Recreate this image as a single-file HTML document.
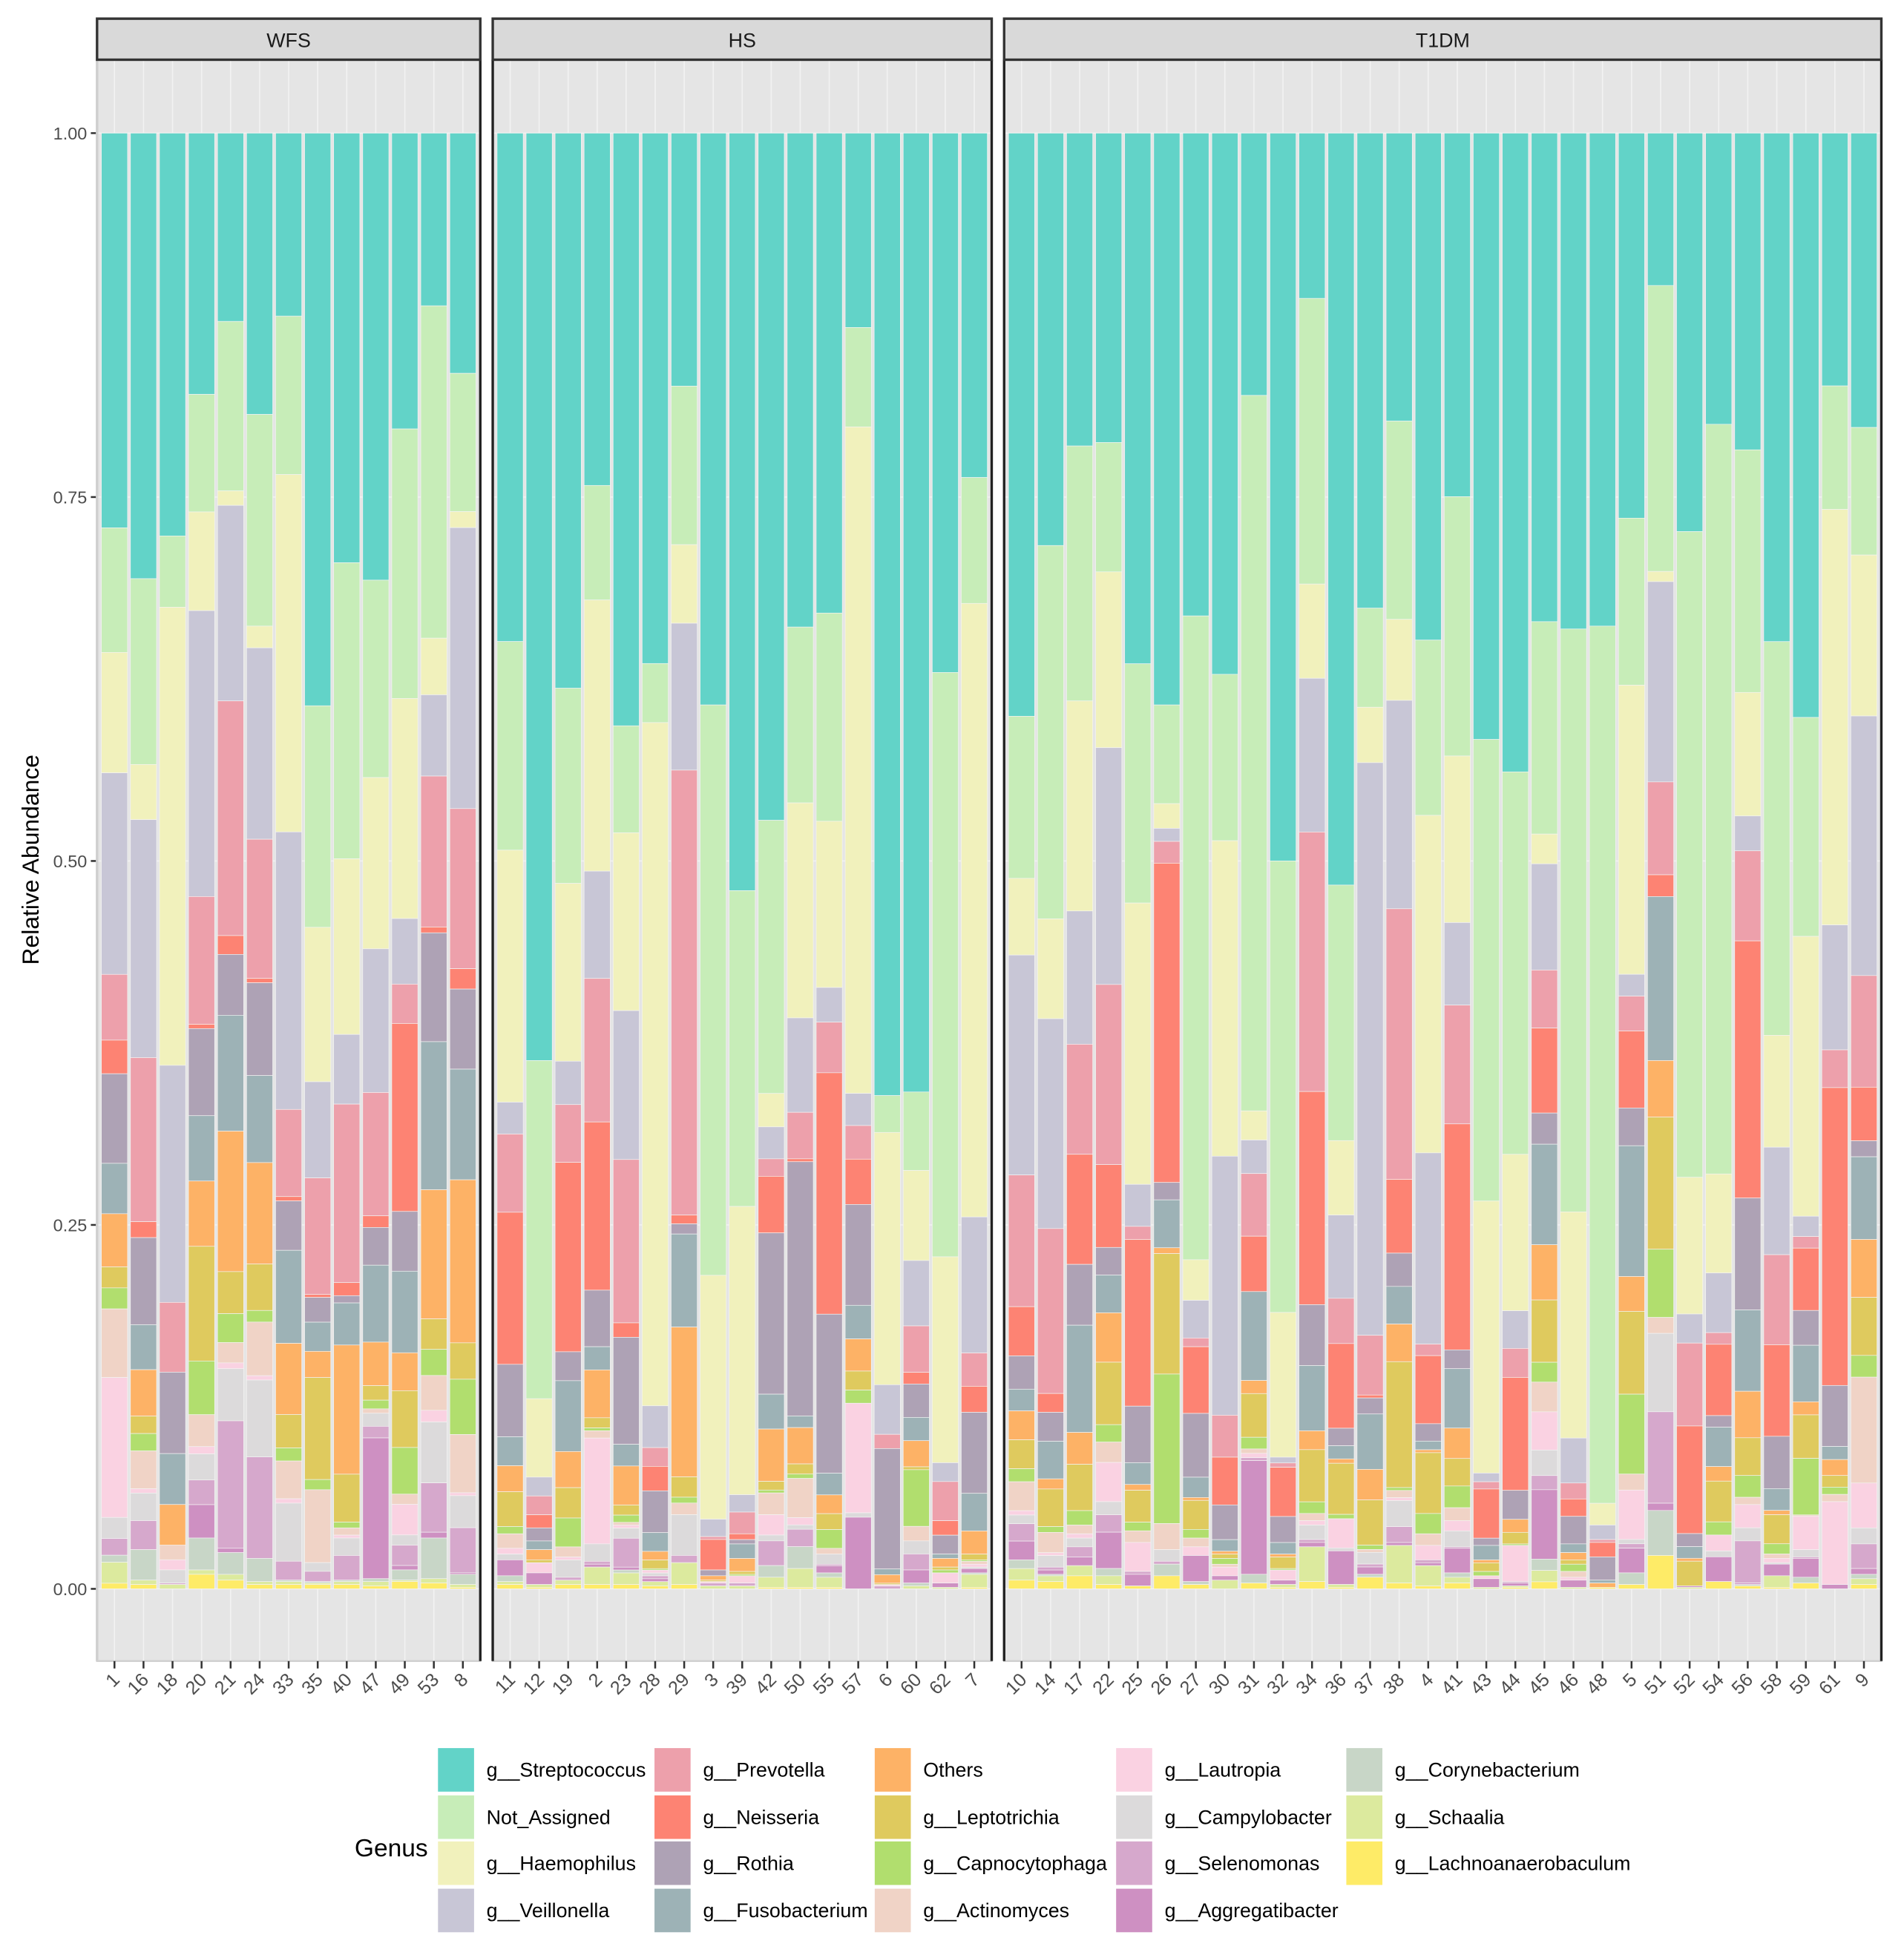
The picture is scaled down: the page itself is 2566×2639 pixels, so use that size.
<!DOCTYPE html>
<html><head><meta charset="utf-8"><title>Genus relative abundance</title>
<style>html,body{margin:0;padding:0;background:#fff}svg{display:block}</style></head>
<body>
<svg id="chart" xmlns="http://www.w3.org/2000/svg" width="2566" height="2639" viewBox="0 0 1530.2 1573.7" preserveAspectRatio="none" font-family="'Liberation Sans', sans-serif">
<text x="0" y="0" transform="translate(31,691) rotate(-90)" text-anchor="middle" font-size="19" fill="#000">Relative Abundance</text>
<text x="285" y="1492" font-size="20" fill="#000">Genus</text>
</svg>
<script>
const genera = ["g__Streptococcus","Not_Assigned","g__Haemophilus","g__Veillonella","g__Prevotella","g__Neisseria","g__Rothia","g__Fusobacterium","Others","g__Leptotrichia","g__Capnocytophaga","g__Actinomyces","g__Lautropia","g__Campylobacter","g__Selenomonas","g__Aggregatibacter","g__Corynebacterium","g__Schaalia","g__Lachnoanaerobaculum"];
const colors = ["#62D3C8","#C7EDB8","#F1F1BC","#C8C6D6","#EDA0AB","#FD8373","#AEA2B5","#9DB2B6","#FDB266","#DFCA5E","#B1DE6E","#F0D3C6","#FAD2E2","#DCDADB","#D6A8CC","#CE90C2","#C8D6C7","#DCEA9E","#FEEB67"];
const yTicks = [0, 0.25, 0.5, 0.75, 1];
const yTickLabels = ["0.00","0.25","0.50","0.75","1.00"];
const panelNames = ["WFS","HS","T1DM"];
const wfsSamples = ["1","16","18","20","21","24","33","35","40","47","49","53","8"];
const hsSamples = ["11","12","19","2","23","28","29","3","39","42","50","55","57","6","60","62","7"];
const t1dmSamples = ["10","14","17","22","25","26","27","30","31","32","34","36","37","38","4","41","43","44","45","46","48","5","51","52","54","56","58","59","61","9"];
const wfsValues = [
[28.2,8.9,8.6,14.4,4.7,2.4,6.4,3.6,3.8,1.5,1.5,4.9,10,1.5,1.2,0,0.5,1.5,0.4],
[30.7,12.8,3.8,16.4,11.3,1.1,6.0,3.1,3.2,1.2,1.2,2.6,0.3,1.9,2.0,0,2.1,0.3,0.3],
[27.7,4.9,31.5,16.3,4.8,0,5.6,3.5,2.8,0,0,1,0.7,0.9,0.1,0,0,0.3,0],
[18,8.1,6.8,19.7,8.8,0.3,6,4.5,4.5,7.9,3.7,2.2,0.5,1.8,1.7,2.3,2.2,0.3,1.0],
[13,11.7,1.0,13.5,16.2,1.3,4.2,8.0,9.7,2.9,2.0,1.4,0.4,3.6,8.8,0.3,1.5,0.4,0.6],
[19.4,14.6,1.5,13.2,9.6,0.3,6.4,6.0,7.0,3.2,0.8,3.7,0.3,5.3,7.0,0,1.6,0.2,0.3],
[12.6,10.9,24.6,19.1,6.0,0.3,3.4,6.4,4.9,2.3,0.9,2.6,0.3,4.0,1.3,0,0.1,0.2,0.3],
[39.3,15.2,10.6,6.6,8.0,0.2,1.7,2.0,1.8,7.0,0.7,5.0,0,0.6,0.7,0,0.1,0.1,0.3],
[29.6,20.4,12.1,4.8,12.3,0.9,0.5,2.9,8.9,3.3,0.4,0.5,0.2,1.2,1.7,0,0.1,0.2,0.3],
[30.8,13.6,11.8,9.9,8.5,0.8,2.6,5.3,3.0,1.0,0.6,0.3,0,0.9,0.8,9.7,0.2,0.3,0.2],
[20.3,18.5,15.1,4.5,2.7,12.9,4.1,5.6,2.6,3.9,3.2,0.7,2.1,0.7,1.4,0.3,0.7,0.1,0.5],
[11.9,22.9,3.9,5.6,10.4,0.4,7.5,10.2,8.9,2.1,1.8,2.4,0.8,4.2,3.4,0.4,2.8,0.3,0.4],
[16.5,9.5,1.1,19.3,11.0,1.4,5.5,7.6,11.2,2.5,3.8,4.0,0.2,2.2,3.1,0.1,0.7,0.2,0.1]];
const hsValues = [
[35.1,14.4,17.4,2.2,5.4,10.5,5.0,2.0,1.8,2.4,0.5,1.0,0.4,0.4,0,1.1,0.4,0.2,0.3],
[63.9,23.3,5.4,1.3,1.3,0.9,0.9,0.6,0.7,0.2,0,0,0.7,0,0,0.8,0,0.2,0.1],
[38.4,13.5,12.3,3.0,4.0,13.1,2.0,4.9,2.5,2.1,2.0,0.7,0.2,1.2,0.2,0,0,0.3,0.3],
[24.3,7.9,18.7,7.4,9.9,11.6,3.9,1.6,3.3,0.7,0.2,0.5,7.3,1.2,0.2,0.2,0,1.2,0.3],
[41.0,7.4,12.3,10.3,11.3,1.0,7.4,1.5,2.7,0.7,0.5,0.2,0.2,0.7,2.0,0.2,0.2,0.8,0.3],
[36.8,4.1,47.4,2.9,1.3,1.7,2.9,1.3,0.6,0.6,0.1,0,0.2,0.2,0.2,0.2,0,0.3,0.2],
[17.4,10.9,5.4,10.1,30.6,0.6,0.7,6.4,10.3,1.4,0.4,0.8,0,2.8,0.5,0,0,1.5,0.3],
[39.4,39.3,16.8,1.2,0.2,2.1,0.4,0,0.3,0.1,0,0,0.1,0,0.2,0,0,0.2,0],
[52.3,21.8,19.9,1.2,1.5,0.4,0.3,1.0,0.9,0.2,0.1,0,0.5,0,0.2,0,0,0.2,0],
[47.3,18.8,2.3,2.2,1.2,3.9,11.1,2.4,3.6,0.6,0.2,1.5,1.4,0.4,1.7,0,0.8,0.7,0.1],
[34.0,12.1,14.8,6.5,3.2,0.2,17.5,0.8,2.5,0.7,0.3,2.7,0.5,0.3,1.2,0,1.5,1.3,0.1],
[33.2,14.4,11.5,2.4,3.5,16.7,11.0,1.5,1.3,1.1,1.3,0.4,0,0.7,0.1,0.5,0.3,0.7,0.1],
[13.3,6.8,45.6,2.2,2.3,3.1,6.9,2.3,2.2,1.3,0.9,0,7.5,0.3,0,4.9,0,0,0],
[67.9,2.6,17.8,3.5,1.0,0,8.5,0.4,0.6,0.1,0,0,0.1,0,0.2,0,0,0,0],
[66.0,5.4,6.2,4.5,3.2,0.8,2.3,1.6,1.8,0.2,3.9,1.0,0,0.9,1.1,0.9,0.2,0.2,0],
[37.2,40.3,14.2,1.3,2.7,1.0,1.3,0.3,0.6,0.2,0.2,0,0.7,0,0,0.3,0,0.1,0],
[23.8,8.7,42.4,9.4,2.3,1.8,5.6,2.6,1.6,0.4,0.1,0.2,0.2,0.1,0,0.3,0.1,0.9,0.1]];
const t1dmValues = [
[40.3,11.2,5.3,15.2,9.1,3.4,2.3,1.5,2.0,2.0,0.9,2.0,0.3,0.6,1.2,1.3,0.6,0.8,0.6],
[28.5,25.8,6.9,14.5,11.4,1.3,2.0,2.6,0.7,2.6,0.4,1.4,0.2,0.8,0.2,0.3,0.1,0.4,0.5],
[21.6,17.6,14.5,9.2,7.6,7.6,4.2,7.4,2.2,3.2,1.0,0.6,0.3,0.6,0.7,0.6,0,0.7,0.9],
[21.3,8.9,12.1,16.3,12.4,5.7,1.9,2.6,3.4,4.3,1.2,1.4,2.7,0.9,1.2,2.5,0.5,0.6,0.3],
[36.6,16.5,19.4,2.9,0.9,11.5,3.9,1.5,0.4,2.2,0.6,0.8,2.0,0,0.2,0.8,0,0,0.2],
[39.4,6.8,1.7,0.9,1.5,22.0,1.2,3.3,0.4,8.3,10.3,1.8,0,0.8,0.2,0,0.8,0,0.9],
[33.3,44.4,2.8,2.6,0.6,4.6,4.4,1.4,0.2,2.0,0.6,0.6,0.6,0,0,1.8,0.2,0,0.3],
[37.4,11.5,21.8,17.9,2.9,3.3,2.4,0.8,0.2,0.3,0.4,0.2,0.6,0,0,0.3,0,0.6,0],
[18.0,49.1,2.0,2.3,4.3,3.8,0,6.1,0.9,3.0,0.8,0.3,0.3,0,0.2,7.8,0.6,0,0.4],
[50.3,31.2,10.0,0.4,0.3,3.4,1.8,0.8,0.2,0.8,0.1,0,0.7,0,0,0.3,0,0.2,0.1],
[11.4,19.7,6.5,10.6,17.9,14.7,4.2,4.5,1.3,3.6,0.8,0.5,0.3,1.0,0.2,0.3,0,2.4,0.5],
[51.5,17.5,5.1,5.7,3.1,5.8,1.2,0.9,0.3,3.5,0.3,0,2.0,0.2,0,2.3,0,0.2,0.1],
[32.6,6.8,3.8,39.3,4.1,0.2,1.1,3.8,2.1,3.1,0.3,0.2,0,0.8,0.2,0.5,0.2,0,0.8],
[19.9,13.7,5.6,14.4,18.7,5.1,2.3,2.6,2.6,8.7,0.2,0.5,0.2,1.8,1.1,0.2,0,2.6,0.4],
[35.0,12.1,23.3,13.2,0.8,4.7,1.2,0.6,0.2,4.2,1.4,0.8,1.0,0,0.2,0.2,0,1.4,0.2],
[25.1,17.9,11.5,5.7,8.2,15.6,1.3,4.1,2.1,1.9,1.5,0.9,0.7,1.1,0.1,1.7,0.3,0.4,0.4],
[41.9,31.9,18.8,0.6,0.5,3.4,0.5,1.0,0.2,0.6,0.3,0,0.2,0,0,0.6,0,0.1,0],
[44.1,26.4,10.8,2.6,2.0,7.8,2.0,0,0.9,0.8,0.1,0,2.5,0,0.1,0.2,0,0.1,0.1],
[34.5,15.0,2.1,7.5,4.1,6.0,2.2,7.1,3.9,4.4,1.4,2.1,2.7,1.8,1.0,4.9,0.8,0.8,0.5],
[34.2,40.2,15.6,3.1,1.1,1.2,1.9,0.6,0.5,0.3,0.5,0.4,0.2,0,0,0.5,0,0.1,0],
[34.0,60.5,1.5,1.0,0.2,1.0,1.6,0.2,0.3,0,0,0,0,0,0,0,0,0,0.1],
[26.5,11.5,19.9,1.5,2.4,5.3,2.6,9.0,2.4,5.7,5.5,1.1,3.4,0.3,0.3,1.7,0.8,0,0.3],
[10.5,19.7,0.7,13.8,6.4,1.5,0,11.3,3.9,9.1,4.7,1.1,0,5.4,6.3,0.5,3.1,0,2.3],
[27.4,44.4,9.4,2.0,5.7,7.4,0.9,0.8,0.2,1.7,0,0,0,0,0,0.1,0,0.1,0],
[20.0,51.5,6.8,4.1,0.8,4.9,0.8,2.7,1.0,2.8,0.9,0,1.1,0.4,0,1.7,0,0,0.5],
[21.8,16.7,8.5,2.4,6.2,17.7,7.7,5.6,3.2,2.6,1.5,0.5,1.6,0.9,2.9,0.1,0.1,0,0.2],
[35.0,27.1,7.7,7.4,6.2,6.3,3.6,1.5,0.3,2.0,0.7,0.3,0.3,0.1,0,0.8,0,0.8,0.1],
[40.3,15.1,19.3,1.4,0.8,4.3,2.4,3.9,0.9,3.0,3.9,0.1,2.3,0.5,0.1,1.3,0.4,0,0.4],
[17.4,8.5,28.6,8.6,2.6,20.5,4.2,0.9,1.1,0.8,0.5,0.5,5.7,0,0,0.3,0,0,0],
[20.3,8.8,11.1,17.9,7.7,3.7,1.1,5.7,4.0,4.0,1.5,7.3,3.1,1.1,1.7,0.4,0.3,0.4,0.3]];

const NS = "http://www.w3.org/2000/svg";
const svg = document.getElementById("chart");
function mk(tag, attrs, parent){const e=document.createElementNS(NS,tag);for(const k in attrs)e.setAttribute(k,attrs[k]);(parent||svg).appendChild(e);return e;}
const Y0 = 1277, YH = 1170;
function yScale(v){return Y0 - v*YH;}
const panels = [
  {x0:78,x1:386,samples:wfsSamples,values:wfsValues},
  {x0:396,x1:797,samples:hsSamples,values:hsValues},
  {x0:807,x1:1512,samples:t1dmSamples,values:t1dmValues}];
const panelTop = 48, panelBottom = 1335, stripTop = 15;

yTicks.forEach((t,i)=>{
  const lab = mk("text",{x:70,y:yScale(t)+5,"text-anchor":"end","font-size":"14","font-family":"'Liberation Sans Narrow','Liberation Sans',sans-serif",fill:"#4d4d4d"});
  
  
  lab.textContent = yTickLabels[i];
  const tk = mk("line",{x1:73,x2:78,y1:yScale(t),y2:yScale(t),stroke:"#333","stroke-width":"1.5"});
  
  
});

panels.forEach((p,pi)=>{
  const g = mk("g",{});
  
  
  const bg = mk("rect",{x:p.x0,y:panelTop,width:p.x1-p.x0,height:panelBottom-panelTop,fill:"#e5e5e5",stroke:"#d0d0d0","stroke-width":"1.5"},g);
  
  
  const n = p.samples.length;
  const unit = (p.x1-p.x0)/(n-1+1.2);
  const xScale = i => p.x0 + (0.6+i)*unit;
  yTicks.forEach(t=>{
    const gl = mk("line",{x1:p.x0,x2:p.x1,y1:yScale(t),y2:yScale(t),stroke:"#f2f2f2","stroke-width":"1"},g);
    
    
  });
  p.samples.forEach((s,i)=>{
    const gl = mk("line",{x1:xScale(i),x2:xScale(i),y1:panelTop,y2:panelBottom,stroke:"#f2f2f2","stroke-width":"1"},g);
    
    
  });
  p.samples.forEach((s,i)=>{
    const vals = p.values[i];
    const total = vals.reduce((a,b)=>a+b,0);
    let cum = 0;
    const bw = 0.9*unit;
    const bg2 = mk("g",{},g);
    
    
    vals.forEach((v,k)=>{
      const top = yScale(1 - cum/total);
      cum += v;
      const bot = yScale(1 - cum/total);
      if (v <= 0) return;
      const r = mk("rect",{x:xScale(i)-bw/2,y:top,width:bw,height:bot-top,fill:colors[k],stroke:"#f4f4f4","stroke-width":"0.4"},bg2);
      
      
    });
    const tk = mk("line",{x1:xScale(i),x2:xScale(i),y1:panelBottom,y2:panelBottom+6,stroke:"#333","stroke-width":"1.5"});
    
    
    const lab = mk("text",{x:0,y:0,transform:`translate(${xScale(i)+5},${panelBottom+16}) rotate(-45)`,"text-anchor":"end","font-size":"15",fill:"#4d4d4d"});
    
    
    lab.textContent = s;
  });
  const edgeL = mk("line",{x1:p.x0,x2:p.x0,y1:panelTop,y2:panelBottom,stroke:pi===0?"#cfcfcf":"#222","stroke-width":"2"},g);
  
  
  const edge = mk("line",{x1:p.x1,x2:p.x1,y1:panelTop,y2:panelBottom,stroke:"#222","stroke-width":"2"},g);
  
  
  const strip = mk("rect",{x:p.x0,y:stripTop,width:p.x1-p.x0,height:panelTop-stripTop,fill:"#d9d9d9",stroke:"#333","stroke-width":"2"},g);
  
  
  const st = mk("text",{x:(p.x0+p.x1)/2,y:stripTop+23,"text-anchor":"middle","font-size":"16",fill:"#1a1a1a"},g);
  
  
  st.textContent = panelNames[pi];
});

const legCols = [352,526,703,897,1082];
const legRows = [1409,1447,1484,1522];
genera.forEach((name,k)=>{
  const c = Math.floor(k/4), r = k%4;
  const g = mk("g",{});
  
  
  const sw = mk("rect",{x:legCols[c],y:legRows[r]-4,width:29,height:35,fill:colors[k]},g);
  
  
  const t = mk("text",{x:legCols[c]+39,y:legRows[r]+19,"font-size":"16",fill:"#000"},g);
  
  
  t.textContent = name;
});
</script>
</body></html>
